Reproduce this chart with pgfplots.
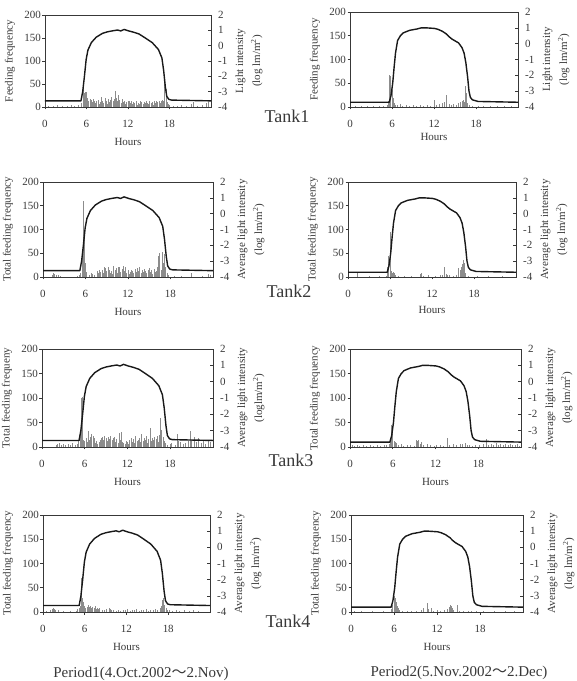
\documentclass[border=0pt]{standalone}
\usepackage{pgfplots}
\pgfplotsset{compat=1.18}
\usepackage{pgfplotstable}
\usepackage{fontspec}
\setmainfont{Liberation Serif}
\newfontfamily\cjk{Noto Sans CJK JP}
\usetikzlibrary{calc}

\definecolor{ink}{gray}{0.22}
\definecolor{barcol}{gray}{0.55}

% ---------- light intensity (log lm/m^2), hourly profile ----------
\pgfplotstableread[row sep=\\]{x y\\
0 -3.6\\ 5.2 -3.6\\ 5.45 -3.0\\ 5.7 -2.0\\ 5.95 -0.9\\ 6.2 -0.3\\ 6.7 0.2\\ 7.4 0.55\\
8.3 0.8\\ 9.0 0.9\\ 9.8 0.97\\ 10.5 1.02\\ 10.95 0.96\\ 11.45 1.06\\ 12.1 0.96\\ 12.8 0.88\\
13.6 0.76\\ 14.5 0.5\\ 15.5 0.2\\ 16.4 -0.25\\ 16.9 -0.8\\ 17.15 -1.6\\ 17.4 -2.7\\ 17.6 -3.3\\
17.9 -3.5\\ 18.3 -3.55\\ 24 -3.6\\}\curveL

\pgfplotstableread[row sep=\\]{x y\\
0 -3.7\\ 5.6 -3.7\\ 5.85 -3.3\\ 6.1 -2.5\\ 6.3 -1.5\\ 6.5 -0.6\\ 6.8 0.2\\ 7.2 0.5\\
7.6 0.68\\ 8.5 0.84\\ 9.6 0.93\\ 10.2 1.0\\ 10.8 1.0\\ 11.5 0.98\\ 12.1 0.96\\ 12.6 0.9\\
13.2 0.78\\ 13.8 0.6\\ 14.2 0.42\\ 14.6 0.28\\ 15.5 0.05\\ 16.0 -0.25\\ 16.3 -0.6\\ 16.55 -1.2\\
16.8 -2.1\\ 17.0 -3.0\\ 17.2 -3.4\\ 17.5 -3.55\\ 18.3 -3.65\\ 24 -3.7\\}\curveR

% ---------- feeding frequency, 10-min bins (non-zero bins only) ----------
% Tank1, period 1
\pgfplotstableread[row sep=\\]{x y\\
0.5 3\\ 1.2 2\\ 1.8 4\\ 2.5 3\\ 3.2 2\\ 3.8 4\\ 4.3 3\\ 4.8 5\\ 5.2 6\\
5.33 8\\ 5.50 46\\ 5.67 30\\ 5.83 33\\ 6.00 32\\ 6.17 20\\ 6.33 12\\ 6.50 18\\ 6.67 15\\ 6.83 10\\
7.00 17\\ 7.17 14\\ 7.33 8\\ 7.50 12\\ 7.67 15\\ 7.83 6\\ 8.00 10\\ 8.17 22\\ 8.33 12\\ 8.50 8\\
8.67 20\\ 8.83 14\\ 9.00 6\\ 9.17 18\\ 9.33 10\\ 9.50 15\\ 9.67 22\\ 9.83 12\\ 10.00 18\\ 10.17 35\\
10.33 20\\ 10.50 12\\ 10.67 26\\ 10.83 15\\ 11.00 8\\ 11.17 18\\ 11.33 10\\ 11.50 14\\ 11.67 6\\
11.83 10\\ 12.00 14\\ 12.17 12\\ 12.33 8\\ 12.50 12\\ 12.67 6\\ 12.83 10\\ 13.00 8\\ 13.17 12\\
13.33 5\\ 13.50 9\\ 13.67 7\\ 13.83 12\\ 14.00 10\\ 14.17 6\\ 14.33 11\\ 14.50 8\\ 14.67 13\\
14.83 9\\ 15.00 6\\ 15.17 12\\ 15.33 8\\ 15.50 10\\ 15.67 5\\ 15.83 12\\ 16.00 9\\ 16.17 14\\
16.33 10\\ 16.50 13\\ 16.67 8\\ 16.83 12\\ 17.00 15\\ 17.17 12\\ 17.33 67\\ 17.50 40\\ 17.67 10\\
17.83 6\\ 18.00 4\\ 18.5 3\\ 19.2 2\\ 19.8 4\\ 20.5 3\\ 21.2 6\\ 21.5 10\\ 22.0 3\\ 22.7 4\\
23.3 8\\ 23.7 10\\}\barsA

% Tank1, period 2
\pgfplotstableread[row sep=\\]{x y\\
0.8 2\\ 1.7 3\\ 2.5 2\\ 3.3 3\\ 4.2 2\\ 4.8 3\\ 5.33 4\\ 5.50 12\\ 5.67 68\\ 5.83 65\\
6.00 35\\ 6.17 18\\ 6.33 8\\ 6.50 5\\ 6.83 4\\ 7.17 6\\ 7.50 3\\ 8.00 4\\ 8.50 3\\ 9.00 5\\
9.50 3\\ 10.00 4\\ 10.50 3\\ 11.00 5\\ 11.50 3\\ 12.00 14\\ 12.33 4\\ 12.83 6\\ 13.17 8\\
13.50 10\\ 13.83 25\\ 14.17 6\\ 14.50 4\\ 14.83 7\\ 15.17 5\\ 15.50 8\\ 15.83 10\\ 16.00 12\\
16.17 14\\ 16.33 10\\ 16.50 45\\ 16.67 30\\ 16.83 8\\ 17.00 5\\ 17.5 3\\ 18.3 2\\ 19.0 3\\
20.0 2\\ 21.0 3\\ 22.0 2\\ 23.0 3\\}\barsB

% Tank2, period 1
\pgfplotstableread[row sep=\\]{x y\\
1.33 5\\ 1.50 8\\ 1.67 6\\ 1.83 4\\ 2.17 5\\ 2.50 3\\ 4.83 3\\ 5.17 4\\ 5.33 8\\ 5.50 45\\
5.67 160\\ 5.83 95\\ 6.00 30\\ 6.17 10\\ 6.50 4\\ 6.83 8\\ 7.00 6\\ 7.33 5\\ 7.67 12\\ 7.83 8\\
8.00 14\\ 8.17 10\\ 8.33 15\\ 8.50 8\\ 8.67 22\\ 8.83 18\\ 9.00 12\\ 9.17 20\\ 9.33 15\\ 9.50 8\\
9.67 12\\ 9.83 6\\ 10.00 24\\ 10.17 14\\ 10.33 18\\ 10.50 8\\ 10.67 20\\ 10.83 22\\ 11.00 10\\
11.17 16\\ 11.33 24\\ 11.50 12\\ 11.67 20\\ 11.83 8\\ 12.00 14\\ 12.17 6\\ 12.33 10\\ 12.50 15\\
12.67 12\\ 12.83 8\\ 13.00 16\\ 13.17 10\\ 13.33 18\\ 13.50 12\\ 13.67 20\\ 13.83 8\\ 14.00 14\\
14.17 10\\ 14.33 16\\ 14.50 12\\ 14.67 8\\ 14.83 15\\ 15.00 18\\ 15.17 10\\ 15.33 14\\ 15.50 6\\
15.67 16\\ 15.83 10\\ 16.00 12\\ 16.17 20\\ 16.33 45\\ 16.50 50\\ 16.67 15\\ 16.83 52\\ 17.00 30\\
17.17 48\\ 17.33 22\\ 17.50 8\\ 17.67 4\\ 18.5 2\\ 19.5 3\\ 21.0 8\\ 22.5 3\\ 23.3 6\\ 23.7 4\\}\barsC

% Tank2, period 2
\pgfplotstableread[row sep=\\]{x y\\
1.33 10\\ 3.0 2\\ 4.5 2\\ 5.50 3\\ 5.67 20\\ 5.83 45\\ 6.00 95\\ 6.17 12\\ 6.33 8\\ 6.50 10\\
6.67 8\\ 6.83 5\\ 7.17 3\\ 8.0 2\\ 9.0 3\\ 10.33 6\\ 10.50 8\\ 10.83 3\\ 11.5 4\\ 12.5 3\\
13.17 4\\ 13.50 5\\ 13.83 20\\ 14.00 6\\ 14.17 5\\ 14.50 4\\ 15.00 3\\ 15.50 5\\ 15.83 18\\
16.00 15\\ 16.17 22\\ 16.33 28\\ 16.50 35\\ 16.67 30\\ 16.83 8\\ 17.17 3\\ 18.5 2\\ 20.0 2\\
22.0 2\\}\barsD

% Tank3, period 1
\pgfplotstableread[row sep=\\]{x y\\
2.00 4\\ 2.17 6\\ 2.50 8\\ 2.67 5\\ 3.00 6\\ 3.33 4\\ 3.67 7\\ 4.00 5\\ 4.33 8\\ 4.67 4\\
5.00 6\\ 5.17 12\\ 5.33 30\\ 5.50 100\\ 5.67 102\\ 5.83 15\\ 6.00 12\\ 6.17 18\\ 6.33 10\\
6.50 32\\ 6.67 14\\ 6.83 20\\ 7.00 26\\ 7.17 22\\ 7.33 18\\ 7.50 8\\ 7.67 12\\ 7.83 6\\ 8.00 10\\
8.17 14\\ 8.33 18\\ 8.50 20\\ 8.67 14\\ 8.83 22\\ 9.00 18\\ 9.17 12\\ 9.33 20\\ 9.50 16\\
9.67 22\\ 9.83 14\\ 10.00 18\\ 10.17 20\\ 10.33 10\\ 10.50 16\\ 10.67 8\\ 10.83 28\\ 11.00 14\\
11.17 30\\ 11.33 10\\ 11.50 8\\ 11.67 6\\ 11.83 12\\ 12.00 10\\ 12.17 6\\ 12.33 14\\ 12.50 18\\
12.67 10\\ 12.83 16\\ 13.00 8\\ 13.17 22\\ 13.33 12\\ 13.50 14\\ 13.67 18\\ 13.83 10\\ 14.00 26\\
14.17 12\\ 14.33 18\\ 14.50 14\\ 14.67 22\\ 14.83 8\\ 15.00 16\\ 15.17 38\\ 15.33 12\\ 15.50 18\\
15.67 14\\ 15.83 20\\ 16.00 16\\ 16.17 22\\ 16.33 10\\ 16.50 25\\ 16.67 60\\ 16.83 35\\ 17.00 20\\
17.17 12\\ 17.33 8\\ 17.67 5\\ 18.00 6\\ 18.17 8\\ 18.67 4\\ 19.00 26\\ 19.17 12\\ 19.50 10\\
19.83 6\\ 20.17 8\\ 20.50 12\\ 20.83 33\\ 21.00 14\\ 21.33 20\\ 21.67 10\\ 22.00 18\\ 22.33 8\\
22.67 12\\ 23.00 6\\ 23.33 14\\ 23.67 10\\}\barsE

% Tank3, period 2
\pgfplotstableread[row sep=\\]{x y\\
0.33 4\\ 0.67 3\\ 1.00 5\\ 1.33 3\\ 1.83 4\\ 2.33 3\\ 2.83 4\\ 3.33 3\\ 3.83 4\\ 4.33 3\\
4.83 5\\ 5.17 4\\ 5.50 6\\ 5.67 10\\ 5.83 45\\ 6.00 42\\ 6.17 12\\ 6.33 10\\ 6.50 8\\ 6.83 4\\
7.17 6\\ 7.50 3\\ 8.00 4\\ 8.50 5\\ 9.00 3\\ 9.33 14\\ 9.50 12\\ 9.67 14\\ 9.83 6\\ 10.00 10\\
10.33 5\\ 10.83 6\\ 11.33 4\\ 11.83 3\\ 12.17 5\\ 12.67 4\\ 13.17 3\\ 13.67 18\\ 14.00 5\\
14.50 6\\ 15.00 5\\ 15.50 7\\ 15.83 6\\ 16.17 8\\ 16.50 5\\ 16.83 4\\ 17.17 3\\ 17.67 4\\
18.17 5\\ 18.67 6\\ 19.17 16\\ 19.50 5\\ 19.83 7\\ 20.17 5\\ 20.50 8\\ 20.83 4\\ 21.17 6\\
21.50 5\\ 21.83 7\\ 22.17 4\\ 22.50 6\\ 22.83 5\\ 23.17 4\\ 23.50 6\\ 23.83 3\\}\barsF

% Tank4, period 1
\pgfplotstableread[row sep=\\]{x y\\
0.50 3\\ 1.00 4\\ 1.33 6\\ 1.50 8\\ 1.67 7\\ 1.83 5\\ 2.17 4\\ 3.00 3\\ 4.00 2\\ 4.83 3\\
5.00 6\\ 5.17 8\\ 5.33 12\\ 5.50 70\\ 5.67 28\\ 5.83 20\\ 6.00 12\\ 6.17 8\\ 6.33 10\\ 6.50 14\\
6.67 10\\ 6.83 12\\ 7.00 8\\ 7.17 11\\ 7.33 9\\ 7.50 12\\ 7.67 7\\ 7.83 9\\ 8.00 6\\ 8.17 8\\
8.50 5\\ 8.83 4\\ 9.17 6\\ 9.50 8\\ 9.67 7\\ 9.83 5\\ 10.17 4\\ 10.50 3\\ 10.83 5\\ 11.17 3\\
11.50 5\\ 11.83 4\\ 12.17 6\\ 12.50 3\\ 12.83 5\\ 13.17 4\\ 13.50 6\\ 13.83 3\\ 14.17 5\\
14.50 4\\ 14.83 6\\ 15.17 3\\ 15.50 5\\ 15.83 4\\ 16.17 6\\ 16.50 5\\ 16.83 8\\ 17.00 12\\
17.17 25\\ 17.33 28\\ 17.50 15\\ 17.67 8\\ 17.83 5\\ 18.17 4\\ 18.67 3\\ 19.17 5\\ 19.67 3\\
20.33 4\\ 21.00 3\\ 21.67 4\\ 22.33 3\\}\barsG

% Tank4, period 2
\pgfplotstableread[row sep=\\]{x y\\
0.50 3\\ 1.50 2\\ 3.00 2\\ 4.50 2\\ 5.67 6\\ 5.83 15\\ 6.00 32\\ 6.17 28\\ 6.33 20\\ 6.50 12\\
6.67 8\\ 6.83 5\\ 7.17 3\\ 7.83 2\\ 8.50 3\\ 9.17 2\\ 9.83 4\\ 10.17 8\\ 10.67 19\\ 10.83 6\\
11.17 8\\ 11.50 3\\ 12.00 4\\ 12.50 3\\ 13.00 4\\ 13.50 6\\ 13.67 10\\ 13.83 14\\ 14.00 12\\
14.17 8\\ 14.33 4\\ 14.83 14\\ 15.17 3\\ 15.67 2\\ 16.33 3\\ 16.83 2\\ 17.50 3\\ 18.50 2\\
20.0 3\\ 21.5 2\\ 22.8 3\\}\barsH

\pgfplotsset{
  every axis/.append style={
    font=\fontsize{11}{17}\selectfont,
    /pgf/number format/assume math mode=true,
    scale only axis, anchor=south west,
    xmin=0, xmax=24,
    axis line style={ink, line width=0.7pt},
    tick style={ink, line width=0.6pt},
    tick label style={text=ink},
    label style={text=ink},
  },
  feedaxis/.style={
    ymin=0, ymax=200,
    xtick={0,6,12,18}, ytick={0,50,100,150,200},
    xtick pos=bottom, ytick pos=left,
    tick align=outside, major tick length=2.5pt,
    xticklabel style={anchor=center, yshift=-14pt},
    yticklabel style={anchor=east, inner sep=0pt, xshift=-1.5pt},
    xlabel={Hours},
    xlabel style={at={(axis description cs:0.5,0)}, anchor=center, yshift=-35pt},
    ylabel style={at={($(axis description cs:0,0.5)+(-35pt,0)$)}, anchor=center},
  },
  lightaxis/.style={
    ymin=-4, ymax=2,
    axis x line=none, axis y line*=right,
    ytick={-4,-3,-2,-1,0,1,2},
    yticklabels={{-4},{-3},{-2},{-1},{0},{1},{2}},
    tick align=inside, major tick length=3.5pt,
    yticklabel style={anchor=west, inner sep=0pt, xshift=7pt},
    ylabel style={at={($(axis description cs:1,0.5)+(38pt,0)$)}, anchor=center, align=center},
  },
  gA/.style={at={(45pt,574pt)}, width=166pt, height=92pt},
  gB/.style={at={(350pt,574pt)}, width=168pt, height=95pt, xlabel style={yshift=5pt}},
  gC/.style={at={(43pt,404pt)}, width=170pt, height=95pt},
  gD/.style={at={(348pt,404pt)}, width=168pt, height=95pt, xlabel style={yshift=2pt}},
  gE/.style={at={(42pt,234pt)}, width=171pt, height=98pt},
  gF/.style={at={(350pt,234pt)}, width=171pt, height=98pt},
  gG/.style={at={(43pt,69pt)}, width=167pt, height=97pt},
  gH/.style={at={(351pt,69pt)}, width=172pt, height=97pt},
}

% one panel: bars on the left scale, light curve on the right scale
% #1 geometry style, #2 left label, #3 right label, #4 bars, #5 curve
\newcommand{\panel}[5]{%
  \begin{axis}[feedaxis, #1, ylabel={#2}]
    \addplot[ycomb, draw=barcol, line width=0.9pt] table[x=x, y=y] {#4};
  \end{axis}
  \begin{axis}[lightaxis, #1, ylabel={#3}]
    \addplot[black!90, line width=1.4pt, line join=round] table[x=x, y=y] {#5};
  \end{axis}}

\newcommand{\lumA}{Light intensity\\(log lm/m\textsuperscript{2})}
\newcommand{\lumB}{Average light intensity\\(log lm/m\textsuperscript{2})}
\newcommand{\lumC}{Average light intensity\\(loglm/m\textsuperscript{2})}

\begin{document}
\begin{tikzpicture}[x=1pt, y=1pt]
\useasboundingbox (0,0) rectangle (577,681);

\panel{gA}{Feeding frequency}{\lumA}{\barsA}{\curveL}
\panel{gB}{Feeding frequency}{\lumA}{\barsB}{\curveR}
\panel{gC}{Total feeding frequency}{\lumB}{\barsC}{\curveL}
\panel{gD}{Total feeding frequency}{\lumB}{\barsD}{\curveR}
\panel{gE}{Total feeding frequeny}{\lumC}{\barsE}{\curveL}
\panel{gF}{Total feeding frequency}{\lumB}{\barsF}{\curveR}
\panel{gG}{Total feeding frequency}{\lumB}{\barsG}{\curveL}
\panel{gH}{Total feeding frequency}{\lumB}{\barsH}{\curveR}

\begin{scope}[every node/.style={font=\fontsize{18}{20}\selectfont, text=ink, anchor=base, inner sep=0pt}]
  \node at (287,558) {Tank1};
  \node at (289,383) {Tank2};
  \node at (291,214) {Tank3};
  \node at (288,53) {Tank4};
\end{scope}

\begin{scope}[every node/.style={font=\fontsize{15}{17}\selectfont, text=ink, anchor=base, inner sep=0pt}]
  \node at (141,3.5) {Period1(4.Oct.2002{\cjk ～}2.Nov)};
  \node at (459,4.5) {Period2(5.Nov.2002{\cjk ～}2.Dec)};
\end{scope}
\end{tikzpicture}
\end{document}
